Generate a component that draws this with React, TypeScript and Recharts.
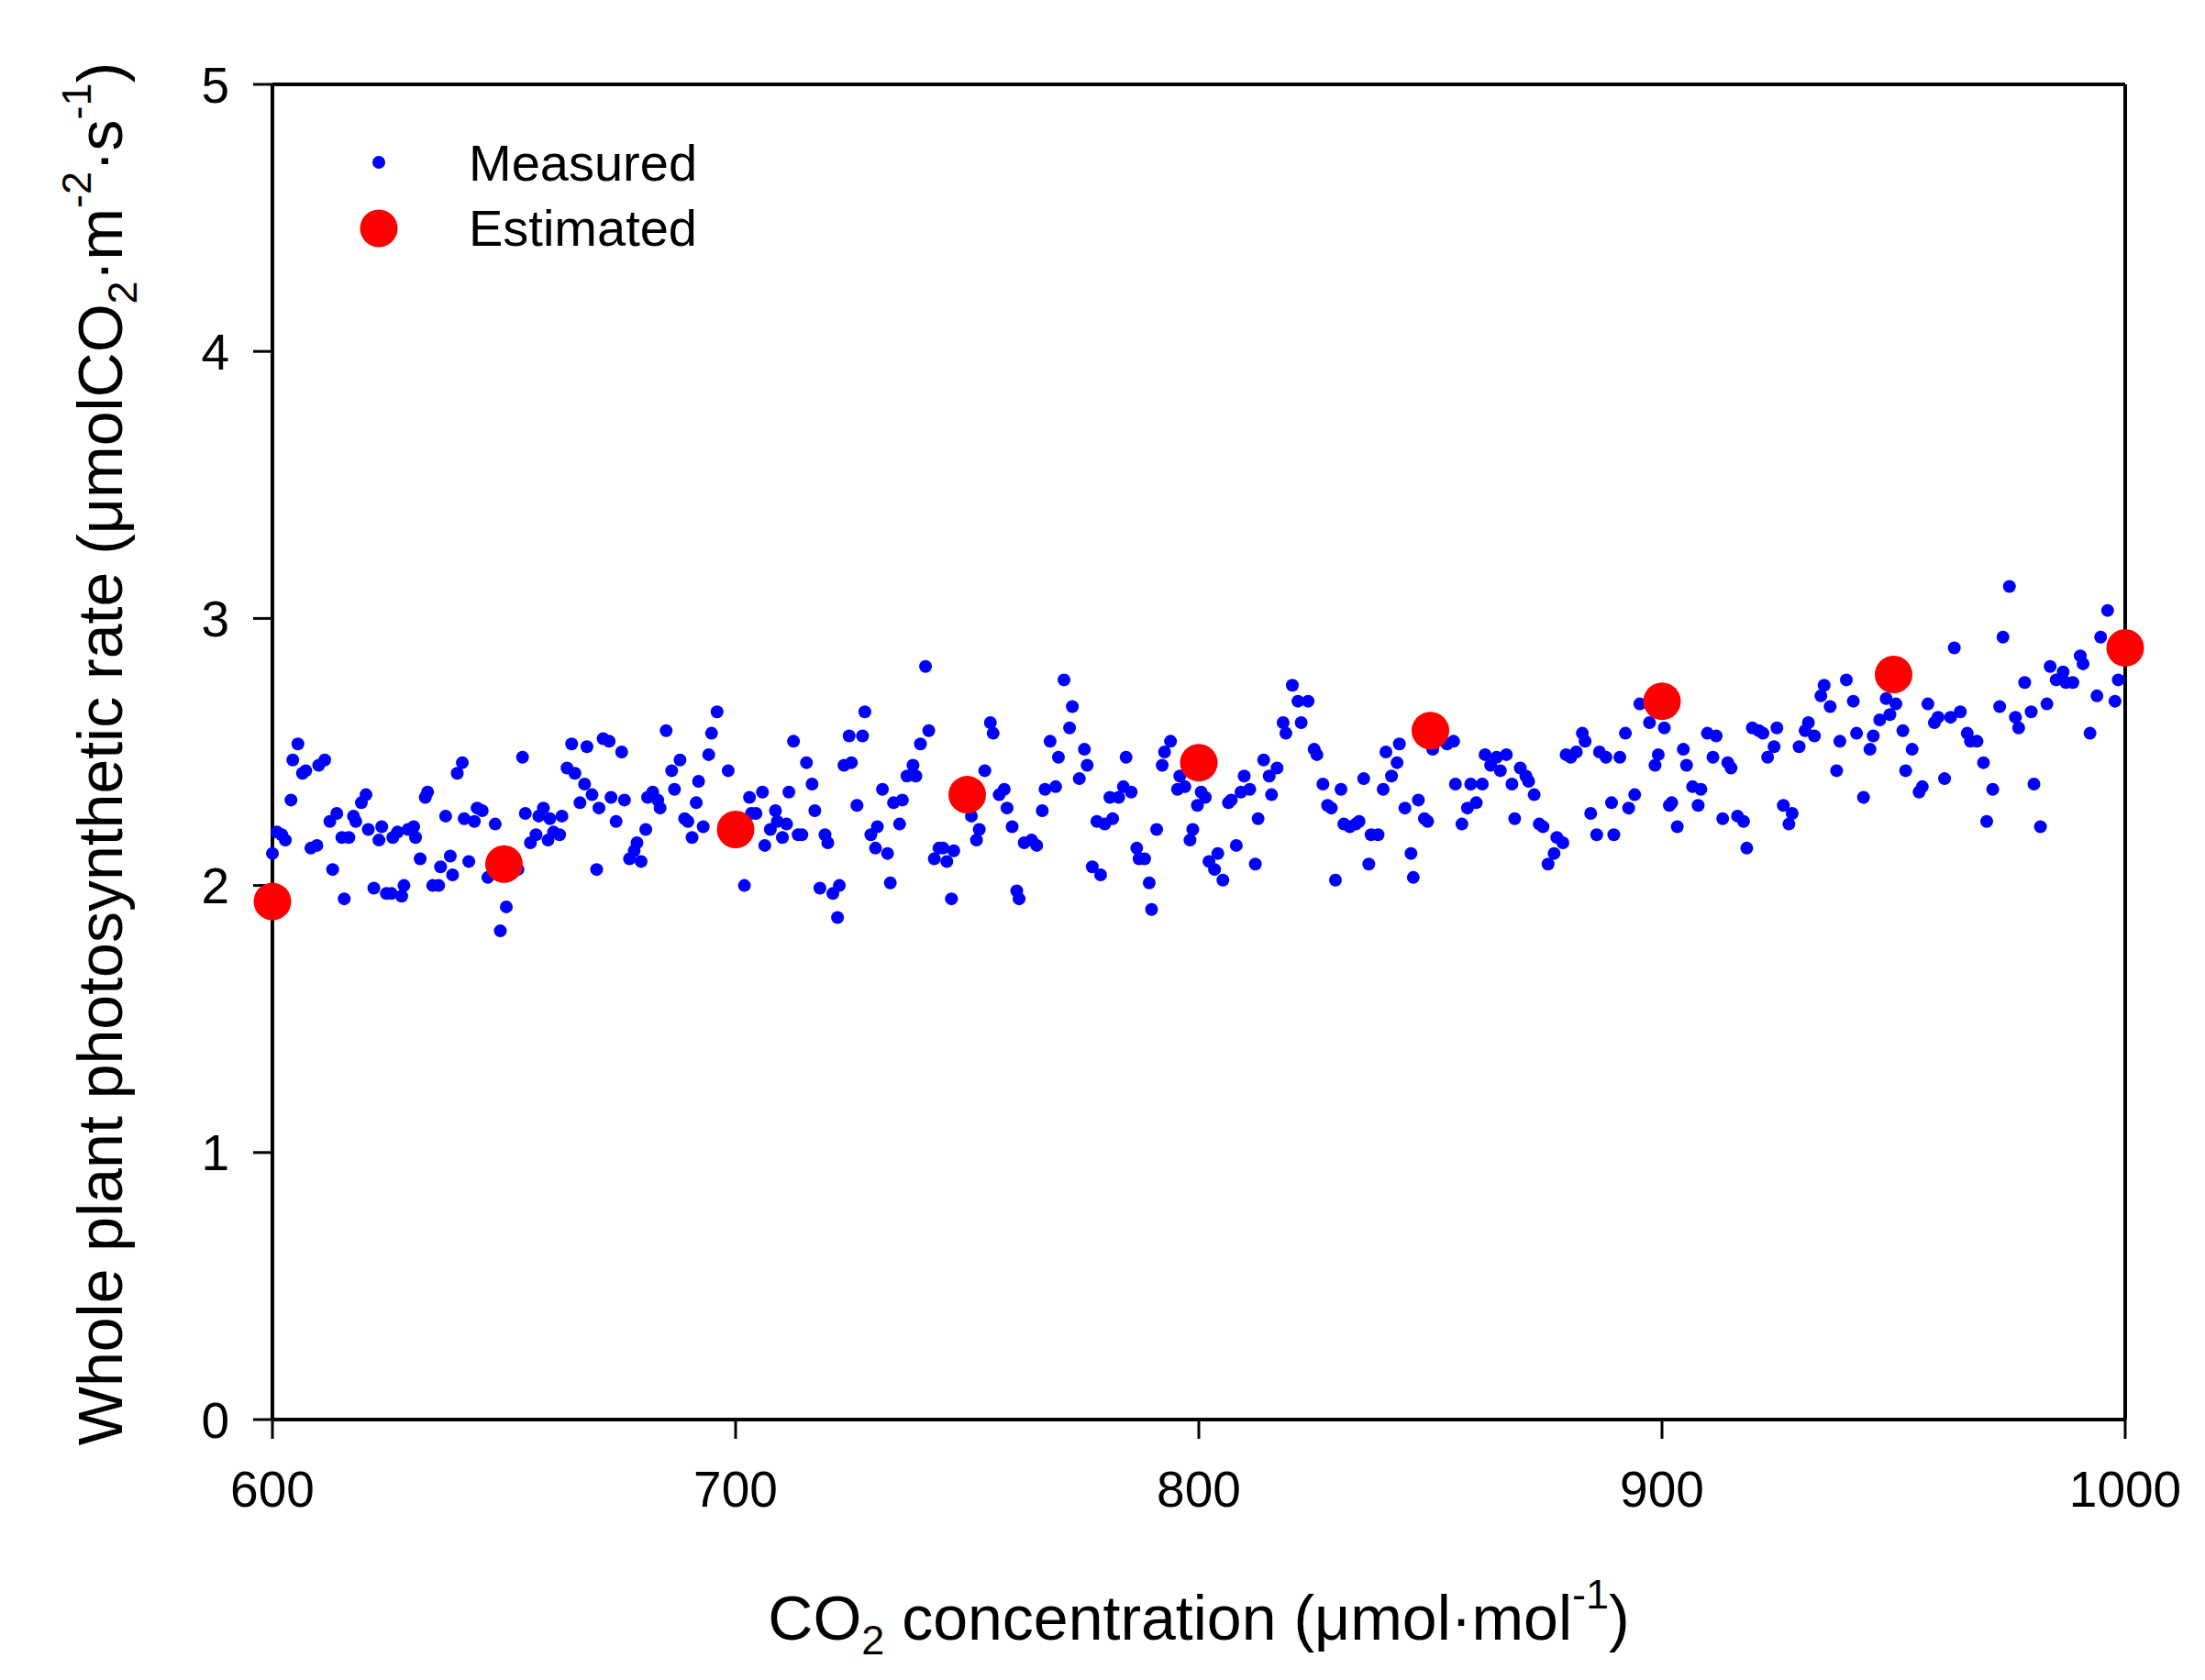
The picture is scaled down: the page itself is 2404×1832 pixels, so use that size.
import React from "react";
import { ScatterChart, Scatter, XAxis, YAxis, ReferenceLine } from "recharts";

// axis ticks
const xTicks = [600, 700, 800, 900, 1000];
const yTicks = [0, 1, 2, 3, 4, 5];

// series names
const measuredName = "Measured";
const estimatedName = "Estimated";

// estimated points (red)
const estimatedCo2 = [600, 650, 700, 750, 800, 850, 900, 950, 1000];
const estimatedRate = [1.94, 2.08, 2.21, 2.34, 2.46, 2.58, 2.69, 2.79, 2.89];

// measured points (blue): [CO2, rate]
const measuredPoints: [number, number][] = [
    [600, 2.12], [601, 2.2], [602, 2.19], [602.8, 2.17], [604, 2.32], [604.4, 2.47], [605.5, 2.53], [606.5, 2.42],
    [607.2, 2.43], [608.3, 2.14], [609.6, 2.15], [610, 2.45], [611.3, 2.47], [612.4, 2.24], [613.9, 2.27], [613, 2.06],
    [615, 2.18], [616.5, 2.18], [615.5, 1.95], [617.5, 2.26], [618, 2.24], [619.2, 2.31], [620.2, 2.34], [620.7, 2.21],
    [621.9, 1.99], [623, 2.17], [623.6, 2.22], [624.6, 1.97], [625.7, 1.97], [626, 2.18], [627, 2.2], [627.9, 1.96],
    [628.4, 2.0], [629.3, 2.21], [630.5, 2.22], [630.9, 2.18], [631.9, 2.1], [633, 2.33], [633.5, 2.35], [634.6, 2.0],
    [635.9, 2.0], [636.3, 2.07], [637.4, 2.26], [638.4, 2.11], [638.9, 2.04], [639.9, 2.42], [641, 2.46], [641.4, 2.25],
    [642.4, 2.09], [643.6, 2.24], [644.2, 2.29], [645.3, 2.28], [646.5, 2.03], [648.1, 2.23], [649.2, 1.83], [650.5, 1.92],
    [653, 2.06], [654, 2.48], [654.6, 2.27], [655.7, 2.16], [656.9, 2.19], [657.5, 2.26], [658.5, 2.29], [659.5, 2.17],
    [659.9, 2.25], [660.7, 2.2], [662, 2.19], [662.5, 2.26], [663.6, 2.44], [665.3, 2.42], [664.6, 2.53], [666.4, 2.31],
    [667.4, 2.38], [669, 2.34], [667.9, 2.52], [670, 2.06], [670.5, 2.29], [671.4, 2.55], [672.7, 2.54], [673.1, 2.33],
    [674.2, 2.24], [675.4, 2.5], [676, 2.32], [677.1, 2.1], [678.1, 2.13], [678.7, 2.16], [679.6, 2.09], [680.6, 2.21],
    [681, 2.33], [682.1, 2.35], [683.2, 2.32], [683.7, 2.29], [685, 2.58], [686.2, 2.43], [686.8, 2.36], [688, 2.47],
    [689, 2.25], [689.7, 2.24], [690.6, 2.18], [691.5, 2.31], [692, 2.39], [693, 2.22], [694.2, 2.49], [694.8, 2.57],
    [696, 2.65], [698.4, 2.43],
    [701.9, 2.0], [703, 2.33], [703.4, 2.27], [704.4, 2.27], [705.8, 2.35], [706.3, 2.15], [707.5, 2.21], [708.6, 2.28],
    [709, 2.24], [711, 2.23], [710.1, 2.18], [711.5, 2.35], [712.5, 2.54], [713.5, 2.19], [714.3, 2.19], [715.3, 2.46],
    [716.5, 2.38], [717.1, 2.28], [718.2, 1.99], [719.3, 2.19], [719.9, 2.16], [721, 1.97], [722.4, 2.0], [722, 1.88],
    [723.4, 2.45], [725, 2.46], [724.5, 2.56], [727.4, 2.56], [726.2, 2.3], [727.9, 2.65], [729.2, 2.19], [730.6, 2.22],
    [730.2, 2.14], [731.7, 2.36], [732.8, 2.12], [733.4, 2.01], [734.1, 2.31], [736, 2.32], [735.4, 2.23], [737, 2.41],
    [738.3, 2.45], [738.9, 2.41], [739.9, 2.53], [741, 2.82], [741.7, 2.58], [742.9, 2.1], [743.9, 2.14], [744.8, 2.14],
    [745.6, 2.09], [747.1, 2.13], [746.6, 1.95], [750.9, 2.26], [752.6, 2.21], [752, 2.17], [753.8, 2.43], [755, 2.61],
    [755.6, 2.57], [756.9, 2.34], [758, 2.36], [758.6, 2.29], [759.7, 2.22], [760.7, 1.98], [761.2, 1.95], [762.3, 2.16],
    [763.9, 2.17], [765, 2.15], [766.2, 2.28], [766.8, 2.36], [769.1, 2.37], [767.9, 2.54], [769.7, 2.48], [770.9, 2.77],
    [772.7, 2.67], [772.1, 2.59], [774.2, 2.4], [775.3, 2.51], [775.9, 2.45], [777, 2.07], [778.8, 2.04], [778, 2.24],
    [779.7, 2.23], [781.4, 2.25], [780.8, 2.33], [782.7, 2.33], [783.7, 2.37], [785.4, 2.35], [784.3, 2.48], [786.6, 2.14],
    [787.1, 2.1], [788.3, 2.1], [789.3, 2.01], [789.8, 1.91], [790.9, 2.21], [792.1, 2.45], [792.6, 2.5], [793.9, 2.54],
    [795.4, 2.36], [795.9, 2.41], [797, 2.37], [798.1, 2.17], [798.7, 2.21], [799.7, 2.3], [800.5, 2.35],
    [801.4, 2.33], [802.2, 2.09], [804.1, 2.12], [803.4, 2.06], [805.2, 2.02], [806.4, 2.31], [807, 2.32], [808.1, 2.15],
    [809.1, 2.35], [811, 2.36], [809.8, 2.41], [812.2, 2.08], [812.8, 2.25], [814, 2.47], [815.2, 2.41], [815.7, 2.34],
    [816.9, 2.44], [818.2, 2.61], [818.8, 2.57], [820.2, 2.75], [821.4, 2.69], [823.6, 2.69], [822.1, 2.61], [824.9, 2.51],
    [825.5, 2.49], [826.8, 2.38], [827.8, 2.3], [828.6, 2.29], [829.5, 2.02], [830.7, 2.36], [831.3, 2.23], [832.6, 2.22],
    [834.6, 2.24], [833.9, 2.23], [835.6, 2.4], [836.7, 2.08], [837.2, 2.19], [838.7, 2.19], [839.8, 2.36], [840.4, 2.5],
    [841.6, 2.41], [842.8, 2.46], [843.3, 2.53], [844.5, 2.29], [845.8, 2.12], [846.3, 2.03], [847.4, 2.32], [848.7, 2.25],
    [849.4, 2.24], [850.5, 2.51], [853.6, 2.53], [855, 2.54], [855.4, 2.38], [856.8, 2.23], [858, 2.29], [858.7, 2.38],
    [859.9, 2.31], [861.2, 2.38], [861.8, 2.49], [863, 2.45], [864.3, 2.48], [865.1, 2.43], [866.4, 2.49], [867.6, 2.38],
    [868.2, 2.25], [869.4, 2.44], [870.6, 2.41], [871.2, 2.39], [872.4, 2.34], [873.5, 2.23], [874.3, 2.22], [877.3, 2.18],
    [878.6, 2.16], [875.4, 2.08], [876.7, 2.12], [879.3, 2.49], [880.3, 2.48], [881.5, 2.5], [882.8, 2.57], [883.4, 2.54],
    [884.6, 2.27], [885.9, 2.19], [886.5, 2.5], [887.9, 2.48], [889.1, 2.31], [889.6, 2.19], [890.9, 2.48], [892.1, 2.57],
    [892.8, 2.29], [894.1, 2.34], [895.2, 2.68], [897.3, 2.61], [898.5, 2.45], [899.2, 2.49], [900.5, 2.59], [901.6, 2.3],
    [902.1, 2.31], [903.3, 2.22], [904.6, 2.51], [905.3, 2.45], [906.6, 2.37], [908.4, 2.36], [907.8, 2.3], [909.8, 2.57],
    [911.7, 2.56], [911, 2.48], [913.1, 2.25], [914.2, 2.46], [914.9, 2.44], [916.3, 2.26], [917.6, 2.24], [918.3, 2.14],
    [919.5, 2.59], [920.9, 2.58], [921.8, 2.57], [922.8, 2.48], [924.2, 2.52], [924.8, 2.59], [926.2, 2.3], [928.1, 2.27],
    [927.4, 2.23], [929.6, 2.52], [930.9, 2.58], [931.6, 2.61], [932.9, 2.56], [934.3, 2.71], [935, 2.75], [936.3, 2.67],
    [937.7, 2.43], [938.4, 2.54], [939.8, 2.77], [941.3, 2.69], [942, 2.57], [943.5, 2.33], [944.9, 2.51], [945.6, 2.56],
    [947, 2.62], [948.4, 2.7], [949.2, 2.64], [950.5, 2.68], [952, 2.58], [952.6, 2.43], [954, 2.51], [955.5, 2.35],
    [956.2, 2.37], [957.4, 2.68], [958.8, 2.61], [959.6, 2.63], [961, 2.4], [962.3, 2.63], [964.4, 2.65], [963.1, 2.89],
    [965.9, 2.57], [966.6, 2.54], [968, 2.54], [969.4, 2.46], [970.1, 2.24], [971.4, 2.36], [972.9, 2.67], [973.6, 2.93],
    [975, 3.12], [976.3, 2.63], [977, 2.59], [978.3, 2.76], [979.7, 2.65], [980.3, 2.38], [981.7, 2.22], [983.1, 2.68],
    [983.8, 2.82], [985.1, 2.77], [986.6, 2.8], [987.2, 2.76], [988.7, 2.76], [990.3, 2.86], [990.9, 2.83], [992.4, 2.57],
    [993.9, 2.71], [994.7, 2.93], [996.2, 3.03], [997.8, 2.69], [998.5, 2.77],
];

const FONT = '"Liberation Sans", Arial, Helvetica, sans-serif';

const measuredData = measuredPoints.map(([co2, rate]) => ({ co2, rate }));
const estimatedData = estimatedCo2.map((co2, i) => ({ co2, rate: estimatedRate[i] }));

const BlueDot = (props: any) => <circle cx={props.cx} cy={props.cy} r={7} fill="#0000ff" />;
const RedDot = (props: any) => <circle cx={props.cx} cy={props.cy} r={20.5} fill="#ff0000" />;

const XTitle = (props: any) => {
    const vb = props.viewBox || { x: 297, y: 1548, width: 2020, height: 284 };
    return (
        <text x={vb.x + vb.width / 2} y={vb.y + 240} textAnchor="middle" fontSize={68} fontFamily={FONT} fill="#000">
            <tspan>CO</tspan>
            <tspan fontSize={45} dy={16}>2</tspan>
            <tspan dy={-16}> concentration (μmol·mol</tspan>
            <tspan fontSize={45} dy={-34}>-1</tspan>
            <tspan dy={34}>)</tspan>
        </text>
    );
};

const YTitle = (props: any) => {
    const vb = props.viewBox || { x: 0, y: 92, width: 297, height: 1456 };
    const cx = 133;
    const cy = vb.y + vb.height / 2 + 2;
    return (
        <text x={cx} y={cy} transform={`rotate(-90, ${cx}, ${cy})`} textAnchor="middle" fontSize={68} fontFamily={FONT} fill="#000">
            <tspan>Whole plant photosynthetic rate (μmolCO</tspan>
            <tspan fontSize={45} dy={16}>2</tspan>
            <tspan dy={-16}>·m</tspan>
            <tspan fontSize={45} dy={-34}>-2</tspan>
            <tspan dy={34}>·s</tspan>
            <tspan fontSize={45} dy={-34}>-1</tspan>
            <tspan dy={34}>)</tspan>
        </text>
    );
};

const tickStyle = { fontSize: 55, fill: "#000", fontFamily: FONT };

export default function App() {
    return (
        <div style={{ position: "absolute", left: 0, top: 0, width: 2404, height: 1832, background: "#fff" }}>
            <ScatterChart width={2404} height={1832} margin={{ top: 92, right: 87, left: 0, bottom: 0 }}>
                <XAxis
                    type="number"
                    dataKey="co2"
                    domain={[600, 1000]}
                    ticks={xTicks}
                    height={284}
                    tickSize={21}
                    tickMargin={35}
                    tick={tickStyle}
                    axisLine={{ stroke: "#000", strokeWidth: 4 }}
                    tickLine={{ stroke: "#000", strokeWidth: 3 }}
                    label={<XTitle />}
                />
                <YAxis
                    type="number"
                    dataKey="rate"
                    domain={[0, 5]}
                    ticks={yTicks}
                    width={297}
                    tickSize={21}
                    tickMargin={26}
                    tick={tickStyle}
                    axisLine={{ stroke: "#000", strokeWidth: 4 }}
                    tickLine={{ stroke: "#000", strokeWidth: 3 }}
                    label={<YTitle />}
                />
                <ReferenceLine y={5} stroke="#000" strokeWidth={4} />
                <ReferenceLine x={1000} stroke="#000" strokeWidth={4} />
                <Scatter name={measuredName} data={measuredData} shape={BlueDot} isAnimationActive={false} />
                <Scatter name={estimatedName} data={estimatedData} shape={RedDot} isAnimationActive={false} />
            </ScatterChart>
            <svg width={800} height={320} style={{ position: "absolute", left: 0, top: 0, pointerEvents: "none" }}>
                <circle cx={413} cy={177} r={7} fill="#0000ff" />
                <text x={511} y={197} fontSize={56} fontFamily={FONT} fill="#000">{measuredName}</text>
                <circle cx={413} cy={249} r={20.5} fill="#ff0000" />
                <text x={511} y={268} fontSize={56} fontFamily={FONT} fill="#000">{estimatedName}</text>
            </svg>
        </div>
    );
}
